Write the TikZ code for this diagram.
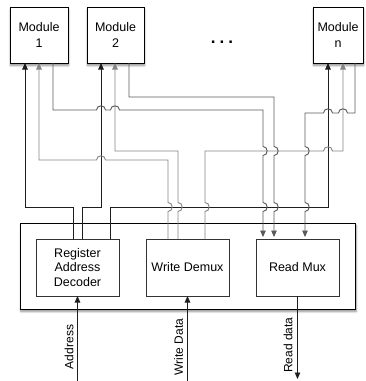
\documentclass[tikz,border=0pt]{standalone}
\usepackage{fontspec}
\setmainfont{Liberation Sans}
\usetikzlibrary{arrows.meta,shadows.blur}
\definecolor{decc}{HTML}{1E1E1E}
\definecolor{wrc}{HTML}{858585}
\definecolor{rdc}{HTML}{5A5A5A}
\begin{document}
\begin{tikzpicture}[x=1pt,y=-1pt,
  >={Triangle[length=6.5pt,width=5.5pt]},
  box/.style={draw=black,fill=white,inner sep=0pt,outer sep=0pt,align=center},
  modbox/.style={box,line width=1pt,minimum height=56pt,
    font=\fontsize{12.5}{16}\selectfont,
    blur shadow={shadow xshift=0.5pt,shadow yshift=-2.5pt,shadow blur steps=6,shadow opacity=45}},
  contbox/.style={box,line width=1pt,
    blur shadow={shadow xshift=1pt,shadow yshift=-2.5pt,shadow blur steps=6,shadow opacity=45}},
  inbox/.style={box,draw=black!80,line width=0.9pt,minimum width=83pt,minimum height=57pt,
    font=\fontsize{12.5}{14.5}\selectfont},
  lbl/.style={font=\fontsize{12}{13}\selectfont,inner sep=0pt,rotate=90},
  decl/.style={draw=decc,line width=0.9pt},
  wrl/.style={draw=wrc,line width=0.9pt},
  rdl/.style={draw=rdc,line width=0.9pt,shorten >=2pt},
]
\useasboundingbox (0,0) rectangle (365,381);

% modules
\node[modbox,minimum width=58pt] (m1) at (39,35) {Module\\1};
\node[modbox,minimum width=57pt] (m2) at (115.5,35) {Module\\2};
\node[modbox,minimum width=50pt] (mn) at (338,35) {Module\\n};
\node[font=\bfseries\fontsize{17}{17}\selectfont,inner sep=0pt] (dots) at (222,42) {.\hspace{4pt}.\hspace{4pt}.};

% register file block
\node[contbox,minimum width=335pt,minimum height=86pt] (cont) at (187.5,266) {};
\node[inbox] (dec) at (77.5,267.5) {Register\\Address\\Decoder};
\node[inbox] (wd) at (187.5,267.5) {Write Demux};
\node[inbox] (rm) at (297.5,267.5) {Read Mux};

% decoder -> modules
\draw[decl,->] ([xshift=37pt]dec.north west) -- ++(0,-32) -| ([xshift=15pt]m1.south west);
\draw[decl,->] ([xshift=46pt]dec.north west) -- ++(0,-32) -| ([xshift=14pt]m2.south west);
\draw[decl,->] ([xshift=74pt]dec.north west) -- ++(0,-32) -| ([xshift=15pt]mn.south west);

% write demux -> modules
\draw[wrl,->] ([xshift=22pt]wd.north west) -- (168,211.5)
  .. controls (173.5,211.5) and (173.5,202.5) .. (168,202.5) -- (168,160) -- (105.5,160)
  .. controls (105.5,154.5) and (96.5,154.5) .. (96.5,160) -| ([xshift=29pt]m1.south west);
\draw[wrl,->] ([xshift=32pt]wd.north west) -- (178,211.5)
  .. controls (183.5,211.5) and (183.5,202.5) .. (178,202.5) -- (178,151) -| ([xshift=28pt]m2.south west);
\draw[wrl,->] ([xshift=59pt]wd.north west) -- (205,211.5)
  .. controls (210.5,211.5) and (210.5,202.5) .. (205,202.5) -- (205,151) -- (323.5,151)
  .. controls (323.5,145.5) and (332.5,145.5) .. (332.5,151) -| ([xshift=30pt]mn.south west);

% modules -> read mux
\draw[rdl,->] ([xshift=43pt]m1.south west) -- (53,110) -- (96.5,110)
  .. controls (96.5,104.5) and (105.5,104.5) .. (105.5,110) -- (110.5,110)
  .. controls (110.5,104.5) and (119.5,104.5) .. (119.5,110) -- (263,110) -- (263,146.5)
  .. controls (268.5,146.5) and (268.5,155.5) .. (263,155.5) -- (263,202.5)
  .. controls (268.5,202.5) and (268.5,211.5) .. (263,211.5) -- ([xshift=7pt]rm.north west);
\draw[rdl,->] ([xshift=42pt]m2.south west) -- (129,97) -- (274,97) -- (274,146.5)
  .. controls (279.5,146.5) and (279.5,155.5) .. (274,155.5) -- (274,202.5)
  .. controls (279.5,202.5) and (279.5,211.5) .. (274,211.5) -- ([xshift=18pt]rm.north west);
\draw[rdl,->] ([xshift=42pt]mn.south west) -- (355,113) -- (347.5,113)
  .. controls (347.5,107.5) and (338.5,107.5) .. (338.5,113) -- (332.5,113)
  .. controls (332.5,107.5) and (323.5,107.5) .. (323.5,113) -- (305,113) -- (305,146.5)
  .. controls (310.5,146.5) and (310.5,155.5) .. (305,155.5) -- (305,202.5)
  .. controls (310.5,202.5) and (310.5,211.5) .. (305,211.5) -- ([xshift=49pt]rm.north west);

% external signals
\coordinate (addrin) at (77.5,381);
\coordinate (wdin) at (187.5,381);
\coordinate (rdout) at (297.5,379);
\draw[decl,->] (addrin) -- (dec.south);
\draw[decl,->] (wdin) -- (wd.south);
\draw[decl,->] (rm.south) -- (rdout);
\node[lbl] (laddr) at (69,347) {Address};
\node[lbl] (lwd) at (178.5,347) {Write Data};
\node[lbl] (lrd) at (288,345) {Read data};
\end{tikzpicture}
\end{document}
